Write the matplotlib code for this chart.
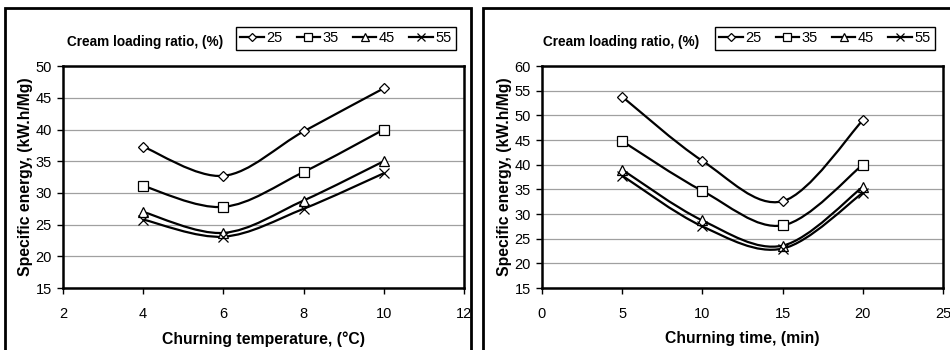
import numpy as np
import matplotlib
matplotlib.use("Agg")
import matplotlib.pyplot as plt
from matplotlib.path import Path
from matplotlib.patches import PathPatch, Rectangle

plt.rcParams['font.family'] = ['Liberation Sans', 'DejaVu Sans']

ratios = ['25', '35', '45', '55']
markers = ['D', 's', '^', 'x']
msizes = [5, 7, 7, 7]

temp = [4, 6, 8, 10]
energy_temp = {
    '25': [37.3, 32.7, 39.7, 46.5],
    '35': [31.1, 27.8, 33.3, 40.0],
    '45': [27.0, 23.7, 28.8, 35.0],
    '55': [25.8, 23.1, 27.5, 33.1],
}

time = [5, 10, 15, 20]
energy_time = {
    '25': [53.8, 40.8, 32.6, 49.0],
    '35': [44.8, 34.7, 27.7, 40.0],
    '45': [39.0, 28.7, 23.6, 35.5],
    '55': [37.8, 27.5, 23.0, 34.3],
}


def smooth_path(x, y):
    # catmull-rom through the points, as bezier segments
    p = np.column_stack([x, y]).astype(float)
    ext = np.vstack([p[0], p, p[-1]])
    verts = [p[0]]
    codes = [Path.MOVETO]
    for i in range(len(p) - 1):
        p0, p1, p2, p3 = ext[i], ext[i + 1], ext[i + 2], ext[i + 3]
        c1 = p1 + (p2 - p0) / 6.
        c2 = p2 - (p3 - p1) / 6.
        verts += [c1, c2, p2]
        codes += [Path.CURVE4] * 3
    return Path(verts, codes)


fig = plt.figure(figsize=(9.5, 3.5), dpi=100)

# panel frames
fig.patches.append(Rectangle((5/950, -0.1), 466/950, 1.1 - 8/350, transform=fig.transFigure,
                             fill=False, ec='black', lw=2))
fig.patches.append(Rectangle((483/950, -0.1), 0.6, 1.1 - 8/350, transform=fig.transFigure,
                             fill=False, ec='black', lw=2))


def panel(left, xdata, series, xlim, ylim, xlabel, title_x, leg_x):
    ax = fig.add_axes([left, 0.177, 0.422, 0.634])
    for r, m, ms in zip(ratios, markers, msizes):
        ax.add_patch(PathPatch(smooth_path(xdata, series[r]), fill=False, ec='black', lw=1.6, zorder=3))
        ax.plot(xdata, series[r], ls='none', marker=m, ms=ms, mfc='white', mec='black', mew=0.9, zorder=4)
    ax.set_xlim(*xlim)
    ax.set_ylim(*ylim)
    ax.set_xticks(np.arange(xlim[0], xlim[1] + 0.1, (xlim[1] - xlim[0]) / 5))
    ax.set_yticks(np.arange(ylim[0], ylim[1] + 0.1, 5))
    ax.yaxis.grid(True, color='#a0a0a0', lw=0.9)
    ax.set_axisbelow(True)
    for s in ax.spines.values():
        s.set_linewidth(1.8)
    ax.tick_params(direction='out', length=4, width=1, labelsize=10.5, colors='black')
    ax.tick_params(axis='y', pad=4)
    ax.tick_params(axis='x', pad=10)
    ax.set_xlabel(xlabel, fontsize=11.3, fontweight='bold', labelpad=7)
    ax.set_ylabel('Specific energy, (kW.h/Mg)', fontsize=11.3, fontweight='bold', labelpad=2)

    fig.text(title_x, 1 - 42/350, 'Cream loading ratio, (%)', fontsize=9.8, fontweight='bold',
             ha='left', va='center')
    handles = [plt.Line2D([], [], color='black', lw=1.6, marker=m, ms=ms * 0.8, mfc='white',
                          mec='black', mew=0.9)
               for m, ms in zip(markers, msizes)]
    fig.legend(handles, ratios, loc='center left', bbox_to_anchor=(leg_x, 1 - 38.5/350), ncol=4,
               frameon=True, fancybox=False, edgecolor='black', framealpha=1, fontsize=10.5,
               handlelength=1.6, handletextpad=0.15, columnspacing=1.0, borderpad=0.3,
               borderaxespad=0)
    return ax


panel(63/950, temp, energy_temp, (2, 12), (15, 50), 'Churning temperature, (°C)', 67/950, 236/950)
panel(542/950, time, energy_time, (0, 25), (15, 60), 'Churning time, (min)', 543/950, 715/950)

fig.savefig('out.png', dpi=100)
